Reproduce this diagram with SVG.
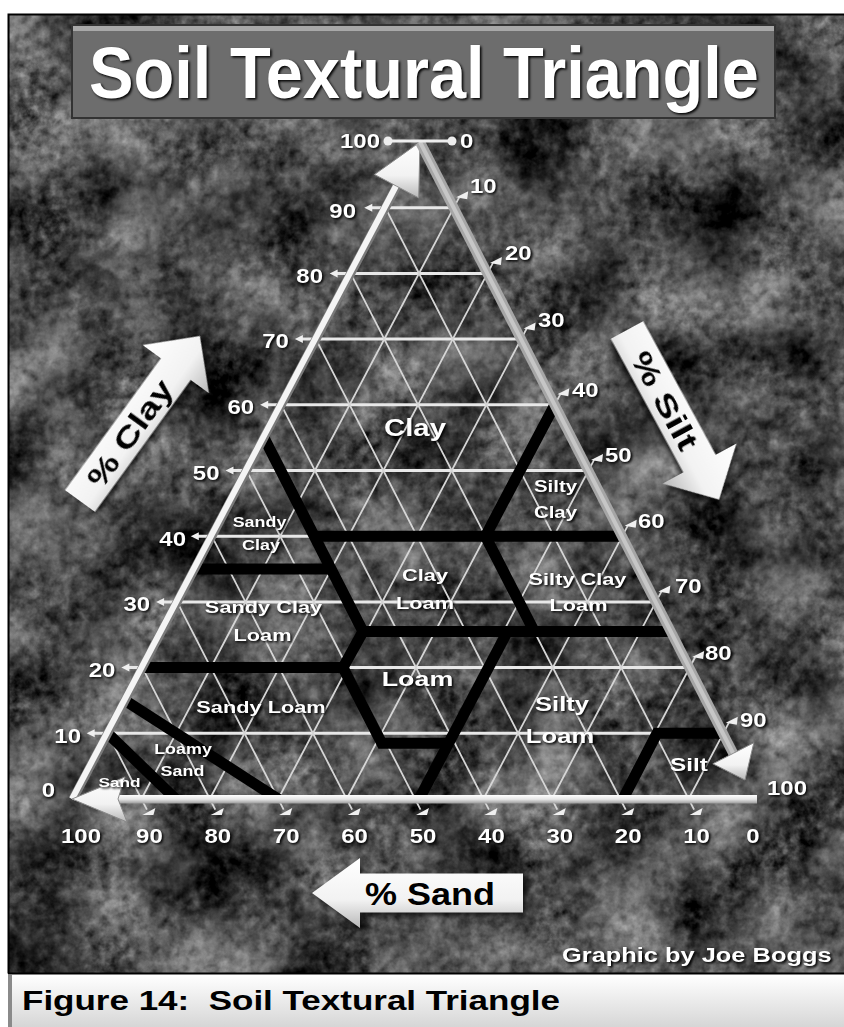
<svg xmlns="http://www.w3.org/2000/svg" width="844" height="1027" viewBox="0 0 844 1027">
<defs>
<style>
.grid{stroke:#d6d6d6;stroke-width:1.8;fill:none}
.hgrid{stroke:#e8e8e8;stroke-width:3;fill:none}
.bnd{stroke:#000;stroke-width:11;fill:none;stroke-linejoin:miter}
.lbl{font-family:"Liberation Sans",Arial,sans-serif;font-weight:bold;fill:#fff}
.n{font-size:20px}
.m{text-anchor:middle}
.e{text-anchor:end}
.tick{fill:#f0f0f0}
.blk{font-family:"Liberation Sans",Arial,sans-serif;font-weight:bold;fill:#000}
</style>
<filter id="soil" x="0" y="0" width="1" height="1" color-interpolation-filters="sRGB">
<feTurbulence type="fractalNoise" baseFrequency="0.012" numOctaves="4" seed="11" result="a"/>
<feTurbulence type="fractalNoise" baseFrequency="0.1" numOctaves="3" seed="4" result="b"/>
<feComposite in="a" in2="b" operator="arithmetic" k1="0" k2="0.65" k3="0.35" k4="0" result="c"/>
<feColorMatrix in="c" type="matrix" values="1.15 0 0 0 -0.28 1.15 0 0 0 -0.28 1.15 0 0 0 -0.28 0 0 0 0 1"/>
</filter>
<filter id="ts" x="-10%" y="-10%" width="120%" height="120%" color-interpolation-filters="sRGB">
<feDropShadow dx="1.5" dy="1.5" stdDeviation="1" flood-color="#000" flood-opacity="1"/>
</filter>
<filter id="as" x="-20%" y="-20%" width="140%" height="140%" color-interpolation-filters="sRGB">
<feDropShadow dx="3" dy="3" stdDeviation="2.5" flood-color="#000" flood-opacity="0.7"/>
</filter>
<linearGradient id="ag" x1="0" y1="0" x2="0" y2="1">
<stop offset="0" stop-color="#ffffff"/><stop offset="0.6" stop-color="#f2f2f2"/><stop offset="1" stop-color="#b8b8b8"/>
</linearGradient>
<linearGradient id="bar" x1="0" y1="0" x2="0" y2="1">
<stop offset="0" stop-color="#ffffff"/><stop offset="0.5" stop-color="#e6e6e6"/><stop offset="1" stop-color="#9a9a9a"/>
</linearGradient>
<linearGradient id="cap" x1="0" y1="0" x2="0" y2="1">
<stop offset="0" stop-color="#ffffff"/><stop offset="1" stop-color="#d6d6d6"/>
</linearGradient>
<clipPath id="tri"><polygon points="73,799 420,142 757,799"/></clipPath>
<polygon id="tL" points="0,0 8,-4 8,4"/>
<polygon id="tR" points="-6,2 6,-4 5,4"/>
<polygon id="tB" points="-7,3 6,-4 4,3"/>
</defs>

<rect x="0" y="0" width="844" height="1027" fill="#fff"/>
<g id="panel">
<rect x="9" y="15" width="835" height="958" fill="#555" filter="url(#soil)"/>
<path d="M8.5,973.5 V14.5 H844 M8,973.5 H844" stroke="#000" stroke-width="2" fill="none"/>
</g>

<g id="title">
<rect x="72" y="25" width="703" height="93" fill="#6d6d6d" stroke="#333" stroke-width="2"/>
<rect x="73" y="26" width="701" height="5" fill="#a8a8a8"/>
<text class="lbl" x="89" y="98" font-size="72" textLength="670" lengthAdjust="spacingAndGlyphs" filter="url(#ts)">Soil Textural Triangle</text>
</g>

<g id="grid">
<path class="hgrid" d="M92.7,733.3H723.3 M127.4,667.6H689.6 M162.1,601.9H655.9 M196.8,536.2H622.2 M231.5,470.5H588.5 M266.2,404.8H554.8 M300.9,339.1H521.1 M335.6,273.4H487.4 M370.3,207.7H453.7"/>
<path class="grid" d="M694.1,809.7L385.3,207.7 M625.7,809.7L350.6,273.4 M557.3,809.7L315.9,339.1 M488.9,809.7L281.2,404.8 M420.5,809.7L246.5,470.5 M352.1,809.7L211.8,536.2 M283.7,809.7L177.1,601.9 M215.3,809.7L142.4,667.6 M146.9,809.7L107.7,733.3"/>
<path class="grid" d="M141.4,799L459.3,197.1 M209.8,799L493,262.8 M278.2,799L526.7,328.5 M346.6,799L560.4,394.2 M415,799L594.1,459.9 M483.4,799L627.8,525.6 M551.8,799L661.5,591.3 M620.2,799L695.2,657 M688.6,799L728.9,722.7"/>
</g>

<g id="connectors" clip-path="url(#tri)">
<polyline class="bnd" points="260.3,430.6 363,631.5 680,631.5"/>
<polyline class="bnd" points="132,667.6 343,667.6 363,631.5"/>
<polyline class="bnd" points="343,667.6 381.8,743.2 448.5,743.2"/>
<line class="bnd" x1="415.5" y1="806" x2="507.5" y2="631.5"/>
<polyline class="bnd" points="558.5,397.7 485.4,536.2 534.3,631.5"/>
<line class="bnd" x1="314.4" y1="536.2" x2="632" y2="536.2"/>
<line class="bnd" x1="185" y1="569" x2="331.2" y2="569"/>
<polyline class="bnd" points="619.8,805.2 657,733.3 732,733.3"/>
<line class="bnd" x1="118.3" y1="696.1" x2="284.9" y2="803.3"/>
<line class="bnd" x1="101.9" y1="727.7" x2="181.4" y2="804.6"/>
</g>

<g id="axis-edges">
<line x1="73" y1="799" x2="398" y2="184" stroke="#7a7a7a" stroke-width="9"/>
<line x1="72" y1="799" x2="397" y2="184" stroke="#f4f4f4" stroke-width="6"/>
<polygon points="420,142 418.7,197.9 396.6,186.2 374.5,174.5" fill="url(#ag)" stroke="#8a8a8a" stroke-width="1"/>
<line x1="420" y1="142" x2="734" y2="755" stroke="#a6a6a6" stroke-width="10"/>
<line x1="420" y1="142" x2="734" y2="755" stroke="#c6c6c6" stroke-width="4"/>
<polygon points="745,780 712.8,763.8 733.3,753.3 753.8,742.8" fill="url(#ag)" stroke="#8a8a8a" stroke-width="1"/>
<rect x="118" y="795" width="639" height="8.5" fill="url(#bar)"/>
<polygon points="72,799 125,777 118,799 127,822" fill="url(#ag)" stroke="#8a8a8a" stroke-width="1"/>
<line x1="388" y1="141" x2="452" y2="141" stroke="#eee" stroke-width="3"/>
<circle cx="388" cy="141" r="4.5" fill="#eee"/>
<circle cx="452" cy="141" r="4.5" fill="#eee"/>
</g>

<g id="ticks" class="tick">
<use href="#tL" x="86.7" y="733.3"/><use href="#tL" x="121.4" y="667.6"/><use href="#tL" x="156.1" y="601.9"/><use href="#tL" x="190.8" y="536.2"/><use href="#tL" x="225.5" y="470.5"/><use href="#tL" x="260.2" y="404.8"/><use href="#tL" x="294.9" y="339.1"/><use href="#tL" x="329.6" y="273.4"/><use href="#tL" x="364.3" y="207.7"/>
<use href="#tR" x="462.2" y="195.2"/><use href="#tR" x="495.9" y="260.9"/><use href="#tR" x="529.6" y="326.6"/><use href="#tR" x="563.3" y="392.3"/><use href="#tR" x="597" y="458"/><use href="#tR" x="630.7" y="523.7"/><use href="#tR" x="664.4" y="589.4"/><use href="#tR" x="698.1" y="655.1"/><use href="#tR" x="731.8" y="720.8"/>
<use href="#tB" x="149.4" y="812"/><use href="#tB" x="217.8" y="812"/><use href="#tB" x="286.2" y="812"/><use href="#tB" x="354.6" y="812"/><use href="#tB" x="423" y="812"/><use href="#tB" x="491.4" y="812"/><use href="#tB" x="559.8" y="812"/><use href="#tB" x="628.2" y="812"/><use href="#tB" x="696.6" y="812"/>
</g>

<g id="axis-numbers" class="lbl n" filter="url(#ts)">
<text class="e" transform="translate(380 148) scale(1.2 1)">100</text>
<text transform="translate(460 148) scale(1.2 1)">0</text>
<text class="e" transform="translate(356 218) scale(1.2 1)">90</text>
<text class="e" transform="translate(323 283) scale(1.2 1)">80</text>
<text class="e" transform="translate(288.9 348.1) scale(1.2 1)">70</text>
<text class="e" transform="translate(254.2 413.8) scale(1.2 1)">60</text>
<text class="e" transform="translate(219.5 480) scale(1.2 1)">50</text>
<text class="e" transform="translate(186 546) scale(1.2 1)">40</text>
<text class="e" transform="translate(150.1 611) scale(1.2 1)">30</text>
<text class="e" transform="translate(115.4 677) scale(1.2 1)">20</text>
<text class="e" transform="translate(81 742.5) scale(1.2 1)">10</text>
<text class="e" transform="translate(55 797) scale(1.2 1)">0</text>
<text transform="translate(470 193) scale(1.2 1)">10</text>
<text transform="translate(505 260) scale(1.2 1)">20</text>
<text transform="translate(538 327) scale(1.2 1)">30</text>
<text transform="translate(572 397) scale(1.2 1)">40</text>
<text transform="translate(605 462) scale(1.2 1)">50</text>
<text transform="translate(638 528) scale(1.2 1)">60</text>
<text transform="translate(675 593) scale(1.2 1)">70</text>
<text transform="translate(705 660) scale(1.2 1)">80</text>
<text transform="translate(740 727) scale(1.2 1)">90</text>
<text transform="translate(767 795) scale(1.2 1)">100</text>
<text class="m" transform="translate(81 843) scale(1.2 1)">100</text>
<text class="m" transform="translate(149.4 843) scale(1.2 1)">90</text>
<text class="m" transform="translate(217.8 843) scale(1.2 1)">80</text>
<text class="m" transform="translate(286.2 843) scale(1.2 1)">70</text>
<text class="m" transform="translate(354.6 843) scale(1.2 1)">60</text>
<text class="m" transform="translate(423 843) scale(1.2 1)">50</text>
<text class="m" transform="translate(491.4 843) scale(1.2 1)">40</text>
<text class="m" transform="translate(559.8 843) scale(1.2 1)">30</text>
<text class="m" transform="translate(628.2 843) scale(1.2 1)">20</text>
<text class="m" transform="translate(696.6 843) scale(1.2 1)">10</text>
<text class="m" transform="translate(753 843) scale(1.2 1)">0</text>
</g>

<g id="classes" class="lbl m" filter="url(#ts)">
<g id="class-clay"><text transform="translate(415 436) scale(1.28 1)" font-size="23">Clay</text></g>
<g id="class-silty-clay" font-size="16"><text transform="translate(555.5 492) scale(1.28 1)">Silty</text><text transform="translate(555.5 518) scale(1.28 1)">Clay</text></g>
<g id="class-sandy-clay" font-size="14"><text transform="translate(259.5 527) scale(1.28 1)">Sandy</text><text transform="translate(261 550) scale(1.28 1)">Clay</text></g>
<g id="class-clay-loam" font-size="17"><text transform="translate(425 581) scale(1.28 1)">Clay</text><text transform="translate(425 609) scale(1.28 1)">Loam</text></g>
<g id="class-silty-clay-loam" font-size="17"><text transform="translate(577.5 585) scale(1.28 1)">Silty Clay</text><text transform="translate(578.5 611) scale(1.28 1)">Loam</text></g>
<g id="class-sandy-clay-loam" font-size="17"><text transform="translate(263.5 613) scale(1.28 1)">Sandy Clay</text><text transform="translate(262.5 641) scale(1.28 1)">Loam</text></g>
<g id="class-loam"><text transform="translate(417.5 686) scale(1.28 1)" font-size="21">Loam</text></g>
<g id="class-sandy-loam"><text transform="translate(261 713) scale(1.28 1)" font-size="17">Sandy Loam</text></g>
<g id="class-silt-loam" font-size="20"><text transform="translate(562 711) scale(1.28 1)">Silty</text><text transform="translate(560 743) scale(1.28 1)">Loam</text></g>
<g id="class-loamy-sand" font-size="14"><text transform="translate(183 754) scale(1.28 1)">Loamy</text><text transform="translate(182.5 776) scale(1.28 1)">Sand</text></g>
<g id="class-sand"><text transform="translate(119.5 787) scale(1.28 1)" font-size="13.5">Sand</text></g>
<g id="class-silt"><text transform="translate(689 771) scale(1.28 1)" font-size="19">Silt</text></g>
</g>

<g id="arrow-clay" transform="translate(80 501) rotate(-54)">
<path d="M0,-18.5 L163,-18.5 L163,-41 L204,0 L163,41 L163,18.5 L0,18.5 Z" fill="url(#ag)" filter="url(#as)"/>
<text class="blk m" x="84" y="10.5" font-size="30" textLength="125" lengthAdjust="spacingAndGlyphs">% Clay</text>
</g>
<g id="arrow-silt" transform="translate(627 330) rotate(61.5)">
<path d="M0,-18.5 L152,-18.5 L152,-42 L193,0 L152,42 L152,18.5 L0,18.5 Z" fill="url(#ag)" filter="url(#as)"/>
<text class="blk m" x="80" y="10.5" font-size="30" textLength="108" lengthAdjust="spacingAndGlyphs">% Silt</text>
</g>
<g id="arrow-sand">
<path d="M312,893 L360,858 L360,873.5 L523,873.5 L523,912.5 L360,912.5 L360,928 Z" fill="url(#ag)" filter="url(#as)"/>
<text class="blk m" x="430" y="905" font-size="31" textLength="130" lengthAdjust="spacingAndGlyphs">% Sand</text>
</g>

<g id="credit"><text class="lbl" transform="translate(562 962) scale(1.27 1)" font-size="20" filter="url(#ts)">Graphic by Joe Boggs</text></g>

<g id="caption">
<rect x="8" y="975" width="836" height="52" fill="url(#cap)"/>
<rect x="8" y="975" width="4" height="52" fill="#8a8a8a"/>
<line x1="12" y1="976" x2="844" y2="976" stroke="#fff" stroke-width="2"/>
<text class="blk" xml:space="preserve" transform="translate(22 1010) scale(1.25 1)" font-size="28">Figure 14:  Soil Textural Triangle</text>
</g>
</svg>
